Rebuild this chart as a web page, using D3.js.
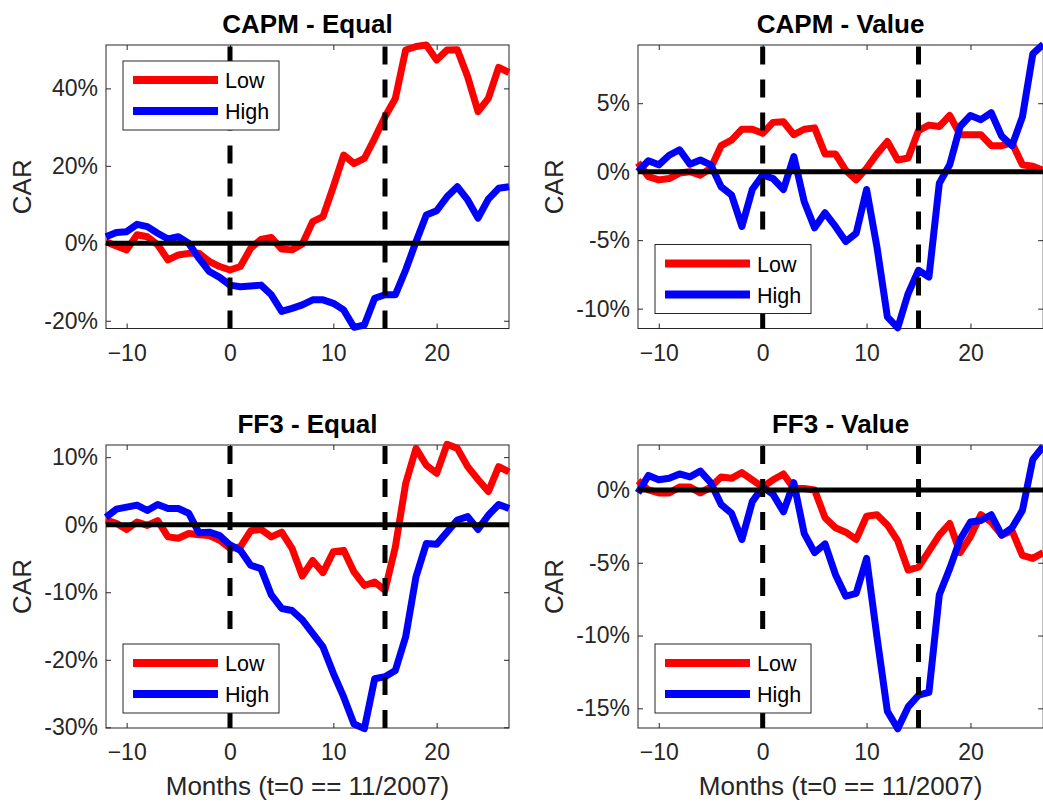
<!DOCTYPE html>
<html>
<head>
<meta charset="utf-8">
<script src="https://cdn.jsdelivr.net/npm/d3@7"></script>
<style>
  body { margin: 0; background: #fff; }
  svg { display: block; font-family: "Liberation Sans", Arial, sans-serif; }
  .tick text { fill: #262626; }
  .tick line { stroke: #262626; }
</style>
</head>
<body>
<div id="chart"></div>
<script>
// months relative to t=0 (11/2007)
var months = [-12, -11, -10, -9, -8, -7, -6, -5, -4, -3, -2, -1, 0, 1, 2, 3, 4, 5, 6, 7,
  8, 9, 10, 11, 12, 13, 14, 15, 16, 17, 18, 19, 20, 21, 22, 23, 24, 25, 26, 27];

var xTicks = [-10, 0, 10, 20];
var eventMonths = [0, 15];
var seriesNames = ['Low', 'High'];
var seriesColors = ['#ff0000', '#0000ff'];

// CAR in percent
var capmEqualLow = [0.4, -0.7, -1.7, 2.2, 1.7, -0.4, -4.3, -3, -2.6, -2.6, -4.7, -6, -6.9, -6, -1.3, 1, 1.5, -1.5, -1.7, -0.2,
  5.6, 6.9, 14.6, 22.8, 20.6, 21.9, 27.1, 32.7, 37.4, 49.9, 50.8, 51.2, 47.3, 49.9, 50, 43, 34, 37.4, 45.4, 44.1];
var capmEqualHigh = [1.7, 2.8, 3, 4.9, 4.3, 2.6, 1.1, 1.7, 0, -3.9, -7.3, -8.8, -10.8, -11.2, -11, -10.8, -13.3, -17.6, -16.8, -15.9,
  -14.6, -14.6, -15.5, -17.2, -21.7, -21.1, -14.2, -13.3, -13.3, -6.9, 0.4, 7.3, 8.4, 12, 14.6, 11.2, 6.5, 11.4, 14.2, 14.6];

var capmValueLow = [0.66, -0.36, -0.6, -0.5, -0.1, 0, -0.25, 0.25, 1.9, 2.3, 3.1, 3.1, 2.8, 3.6, 3.65, 2.7, 3.1, 3.2, 1.3, 1.3,
  0.1, -0.6, 0.25, 1.3, 2.2, 0.85, 1, 3, 3.4, 3.3, 4.1, 2.7, 2.7, 2.7, 1.9, 1.9, 2.1, 0.5, 0.4, 0.1];
var capmValueHigh = [0, 0.8, 0.5, 1.2, 1.6, 0.55, 0.85, 0.5, -1.1, -1.7, -4, -1.3, -0.25, -0.5, -1.3, 1.1, -2.2, -4.1, -3, -4,
  -5.1, -4.5, -1.3, -5.5, -10.6, -11.4, -8.9, -7.2, -7.7, -0.85, 0.5, 3.3, 4.1, 3.8, 4.3, 2.6, 1.9, 4, 8.6, 9.3];

var ff3EqualLow = [0.7, 0.2, -0.7, 0.4, -0.1, 0.6, -1.8, -2, -1.3, -1.5, -1.6, -2.3, -3.5, -3.3, -0.9, -0.7, -1.8, -1.1, -3.5, -7.6,
  -5.3, -7.1, -4, -3.8, -7, -9, -8.5, -9.7, -3.3, 6.1, 11.3, 8.8, 7.6, 11.9, 11.3, 8.6, 6.7, 4.9, 8.6, 7.8];
var ff3EqualHigh = [1.1, 2.3, 2.6, 2.9, 2.1, 3, 2.4, 2.4, 1.7, -1.2, -1.1, -1.6, -3, -3.8, -6, -6.5, -10.4, -12.4, -12.7, -14.1,
  -16.1, -18.1, -22, -25.5, -29.5, -30.2, -22.8, -22.5, -21.6, -16.6, -7.7, -2.8, -2.9, -1.1, 0.7, 1.2, -0.7, 1.4, 3, 2.4];

var ff3ValueLow = [0.64, 0, -0.2, -0.2, 0.2, 0.2, -0.2, 0.2, 0.9, 0.8, 1.2, 0.7, 0.2, 0.7, 1.1, 0.1, 0.1, 0, -1.9, -2.6,
  -2.9, -3.4, -1.8, -1.7, -2.4, -3.5, -5.5, -5.3, -4.2, -3.1, -2.3, -4.3, -3.2, -1.7, -2.2, -3.1, -2.8, -4.5, -4.7, -4.3];
var ff3ValueHigh = [-0.2, 1, 0.7, 0.8, 1.1, 0.9, 1.3, 0.5, -1, -1.6, -3.4, -0.8, 0.2, -0.3, -1.5, 0.5, -3, -4.3, -3.7, -5.8,
  -7.3, -7.1, -4.7, -10.1, -15.2, -16.4, -14.9, -14.1, -13.9, -7.2, -5.4, -3.4, -2.2, -2.1, -1.7, -3.1, -2.6, -1.4, 2.1, 3];

var panelTitles = ['CAPM - Equal', 'CAPM - Value', 'FF3 - Equal', 'FF3 - Value'];
var panelYTicks = [[-20, 0, 20, 40], [-10, -5, 0, 5], [-30, -20, -10, 0, 10], [-15, -10, -5, 0]];
var panelYLimits = [[-22, 51.2], [-11.45, 9.25], [-30.1, 11.8], [-16.35, 3.09]];
var panelSeries = [
  [capmEqualLow, capmEqualHigh],
  [capmValueLow, capmValueHigh],
  [ff3EqualLow, ff3EqualHigh],
  [ff3ValueLow, ff3ValueHigh]
];
var legendAtTop = [true, false, false, false];

var width = 1043;
var height = 806;

// plot boxes of the 2x2 grid
var boxes = [
  {left: 106, right: 509, top: 45, bottom: 328.5},
  {left: 638, right: 1043.2, top: 45, bottom: 328.5},
  {left: 106, right: 509, top: 445, bottom: 728},
  {left: 638, right: 1043.2, top: 445, bottom: 728}
];

var svg = d3.select('#chart')
  .append('svg')
  .attr('width', width)
  .attr('height', height)
  ;

svg.append('rect')
  .attr('width', width)
  .attr('height', height)
  .attr('fill', '#fff')
  ;

function drawPanel(i){
  var b = boxes[i];
  var g = svg.append('g');

  var x = d3.scaleLinear()
    .domain([months[0], months[months.length - 1]])
    .range([b.left, b.right])
    ;
  var y = d3.scaleLinear()
    .domain(panelYLimits[i])
    .range([b.bottom, b.top])
    ;

  // axes with inward ticks on all four sides
  var fmt = function(d){ return d + '%'; };

  g.append('g')
    .attr('transform', 'translate(0,' + b.bottom + ')')
    .call(d3.axisBottom(x).tickValues(xTicks).tickSize(-5).tickPadding(16))
    ;
  g.append('g')
    .attr('transform', 'translate(0,' + b.top + ')')
    .call(d3.axisTop(x).tickValues(xTicks).tickSize(-5).tickFormat(''))
    ;
  g.append('g')
    .attr('transform', 'translate(' + b.left + ',0)')
    .call(d3.axisLeft(y).tickValues(panelYTicks[i]).tickSize(-5).tickPadding(8).tickFormat(fmt))
    ;
  g.append('g')
    .attr('transform', 'translate(' + b.right + ',0)')
    .call(d3.axisRight(y).tickValues(panelYTicks[i]).tickSize(-5).tickFormat(''))
    ;

  g.selectAll('.domain').remove();
  g.selectAll('.tick text').attr('font-size', 23).attr('font-family', '"Liberation Sans", Arial, sans-serif');
  g.selectAll('.tick line').attr('stroke-width', 1);

  g.append('rect')
    .attr('x', b.left)
    .attr('y', b.top)
    .attr('width', b.right - b.left)
    .attr('height', b.bottom - b.top)
    .attr('fill', 'none')
    .attr('stroke', '#262626')
    .attr('stroke-width', 1)
    ;

  var line = d3.line()
    .x(function(d, k){ return x(months[k]); })
    .y(function(d){ return y(d); })
    ;

  panelSeries[i].forEach(function(values, s){
    g.append('path')
      .attr('d', line(values))
      .attr('fill', 'none')
      .attr('stroke', seriesColors[s])
      .attr('stroke-width', 7)
      .attr('stroke-linejoin', 'round')
      ;
  });

  // zero line and event markers
  g.append('line')
    .attr('x1', b.left)
    .attr('x2', b.right)
    .attr('y1', y(0))
    .attr('y2', y(0))
    .attr('stroke', '#000')
    .attr('stroke-width', 5)
    ;

  // dashes run from the bottom up, like the original
  eventMonths.forEach(function(m){
    g.append('line')
      .attr('x1', x(m))
      .attr('x2', x(m))
      .attr('y1', b.bottom)
      .attr('y2', b.top)
      .attr('stroke', '#000')
      .attr('stroke-width', 5)
      .attr('stroke-dasharray', '18,15')
      ;
  });

  // title
  g.append('text')
    .attr('x', (b.left + b.right) / 2)
    .attr('y', b.top - 12)
    .attr('text-anchor', 'middle')
    .attr('font-size', 26)
    .attr('font-weight', 'bold')
    .attr('fill', '#000')
    .text(panelTitles[i])
    ;

  // y label
  g.append('text')
    .attr('transform', 'translate(' + (b.left - 75) + ',' + ((b.top + b.bottom) / 2) + ') rotate(-90)')
    .attr('text-anchor', 'middle')
    .attr('font-size', 26)
    .attr('fill', '#262626')
    .text('CAR')
    ;

  // x label on the bottom row
  if(i >= 2){
    g.append('text')
      .attr('x', (b.left + b.right) / 2)
      .attr('y', b.bottom + 67)
      .attr('text-anchor', 'middle')
      .attr('font-size', 26)
      .attr('fill', '#262626')
      .text('Months (t=0 == 11/2007)')
      ;
  }

  // legend
  var lx = b.left + 17;
  var ly = legendAtTop[i] ? b.top + 16 : b.bottom - 84;
  var lg = g.append('g').attr('transform', 'translate(' + lx + ',' + ly + ')');

  lg.append('rect')
    .attr('width', 156)
    .attr('height', 69)
    .attr('fill', '#fff')
    .attr('stroke', '#262626')
    .attr('stroke-width', 1)
    ;

  seriesNames.forEach(function(name, s){
    var ry = 19 + s * 31;
    lg.append('line')
      .attr('x1', 10)
      .attr('x2', 95)
      .attr('y1', ry)
      .attr('y2', ry)
      .attr('stroke', seriesColors[s])
      .attr('stroke-width', 8)
      ;
    lg.append('text')
      .attr('x', 102)
      .attr('y', ry + 8)
      .attr('font-size', 21.5)
      .attr('fill', '#000')
      .text(name)
      ;
  });
}

for(var i = 0; i < 4; i++){
  drawPanel(i);
}
</script>
</body>
</html>
